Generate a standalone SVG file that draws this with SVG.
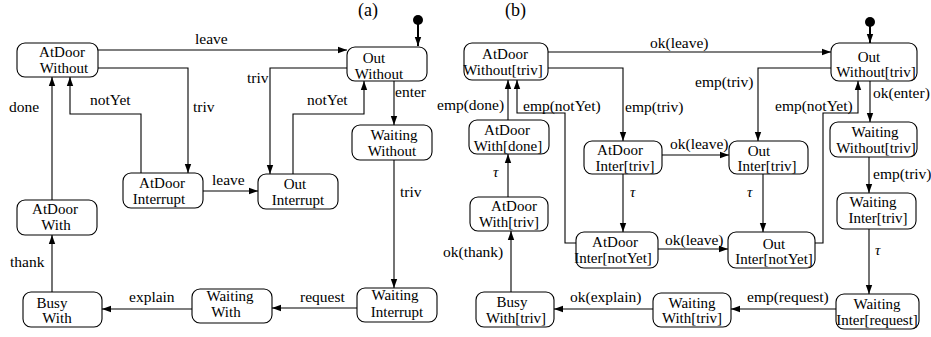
<svg xmlns="http://www.w3.org/2000/svg" width="931" height="337" viewBox="0 0 931 337">
<style>
.n rect{fill:#fff;stroke:#000;stroke-width:1.1}
.n text{font-family:'Liberation Serif','Times New Roman',serif;font-size:15px;text-anchor:middle;fill:#000}
.c path{fill:none;stroke:#000;stroke-width:1.1}
.l text{font-family:'Liberation Serif','Times New Roman',serif;font-size:15.5px;fill:#000}
.l text.t{font-style:italic;font-size:15px}
</style>
<defs>
<marker id="a" markerWidth="10" markerHeight="8" refX="9" refY="4" orient="auto" markerUnits="userSpaceOnUse">
<path d="M0,0.8 L9,4 L0,7.2 Z" fill="#000"/>
</marker>
</defs>
<rect width="931" height="337" fill="#fff"/>
<g class="l">
<text x="358" y="16" style="font-size:18px">(a)</text>
<text x="505" y="16" style="font-size:18px">(b)</text>
</g>

<g class="c">
<!-- (a) -->
<circle cx="418" cy="20" r="5" fill="#000"/>
<path d="M418,24 V46" style="stroke-width:2" marker-end="url(#a)"/>
<path d="M98,50 H347" marker-end="url(#a)"/>
<path d="M98,68 H188 V173" marker-end="url(#a)"/>
<path d="M141,173 V114 H70 V77" marker-end="url(#a)"/>
<path d="M347,68 H270 V174" marker-end="url(#a)"/>
<path d="M293,174 V114 H364 V81" marker-end="url(#a)"/>
<path d="M394,81 V125" marker-end="url(#a)"/>
<path d="M203,191 H258" marker-end="url(#a)"/>
<path d="M52,200 V77" marker-end="url(#a)"/>
<path d="M394,160 V288" marker-end="url(#a)"/>
<path d="M357,308 H272" marker-end="url(#a)"/>
<path d="M192,309 H102" marker-end="url(#a)"/>
<path d="M52,292 V235" marker-end="url(#a)"/>
<!-- (b) -->
<circle cx="870" cy="22" r="5" fill="#000"/>
<path d="M870,26 V43" style="stroke-width:2" marker-end="url(#a)"/>
<path d="M548,52 H831" marker-end="url(#a)"/>
<path d="M548,68 H623 V141" marker-end="url(#a)"/>
<path d="M831,68 H758 V141" marker-end="url(#a)"/>
<path d="M576,243 H565 V113 H517 V80" marker-end="url(#a)"/>
<path d="M508,120 V80" marker-end="url(#a)"/>
<path d="M815,243 H823 V113 H858 V81" marker-end="url(#a)"/>
<path d="M870,81 V122" marker-end="url(#a)"/>
<path d="M662,155 H729" marker-end="url(#a)"/>
<path d="M623,174 V232" marker-end="url(#a)"/>
<path d="M763,174 V232" marker-end="url(#a)"/>
<path d="M658,249 H728" marker-end="url(#a)"/>
<path d="M508,197 V154" marker-end="url(#a)"/>
<path d="M869,157 V193" marker-end="url(#a)"/>
<path d="M869,229 V294" marker-end="url(#a)"/>
<path d="M836,309 H731" marker-end="url(#a)"/>
<path d="M653,309 H554" marker-end="url(#a)"/>
<path d="M511,292 V231" marker-end="url(#a)"/>
</g>

<g class="l">
<text x="195" y="44">leave</text>
<text x="193" y="112">triv</text>
<text x="90" y="105">notYet</text>
<text x="9" y="112">done</text>
<text x="247" y="83">triv</text>
<text x="307" y="105">notYet</text>
<text x="395" y="97">enter</text>
<text x="212" y="185">leave</text>
<text x="400" y="197">triv</text>
<text x="10" y="267">thank</text>
<text x="300" y="302">request</text>
<text x="129" y="302">explain</text>

<text x="650" y="48">ok(leave)</text>
<text x="625" y="112">emp(triv)</text>
<text x="695" y="87">emp(triv)</text>
<text x="523" y="111">emp(notYet)</text>
<text x="437" y="110">emp(done)</text>
<text x="775" y="111">emp(notYet)</text>
<text x="873" y="98">ok(enter)</text>
<text x="670" y="149">ok(leave)</text>
<text x="665" y="245">ok(leave)</text>
<text x="873" y="179">emp(triv)</text>
<text x="747" y="302">emp(request)</text>
<text x="570" y="302">ok(explain)</text>
<text x="443" y="257">ok(thank)</text>
<text class="t" x="493" y="177">τ</text>
<text class="t" x="630" y="197">τ</text>
<text class="t" x="747" y="197">τ</text>
<text class="t" x="875" y="255">τ</text>
</g>

<!-- (a) nodes -->
<g class="n" id="a_atdoor_without"><rect x="17" y="43" width="81" height="34" rx="8"/><text x="62" y="57">AtDoor</text><text x="64" y="73">Without</text></g>
<g class="n" id="a_out_without"><rect x="347" y="47" width="80" height="34" rx="8"/><text x="374" y="63">Out</text><text x="379" y="79">Without</text></g>
<g class="n" id="a_waiting_without"><rect x="352" y="125" width="80" height="35" rx="8"/><text x="394" y="140">Waiting</text><text x="392" y="156">Without</text></g>
<g class="n" id="a_atdoor_interrupt"><rect x="123" y="173" width="80" height="35" rx="8"/><text x="162" y="188">AtDoor</text><text x="159" y="204">Interrupt</text></g>
<g class="n" id="a_out_interrupt"><rect x="258" y="174" width="80" height="35" rx="8"/><text x="295" y="189">Out</text><text x="298" y="205">Interrupt</text></g>
<g class="n" id="a_atdoor_with"><rect x="17" y="200" width="80" height="35" rx="8"/><text x="55" y="214">AtDoor</text><text x="56" y="230">With</text></g>
<g class="n" id="a_busy_with"><rect x="23" y="292" width="79" height="35" rx="8"/><text x="52" y="308">Busy</text><text x="57" y="323">With</text></g>
<g class="n" id="a_waiting_with"><rect x="192" y="289" width="80" height="34" rx="8"/><text x="230" y="301">Waiting</text><text x="226" y="317">With</text></g>
<g class="n" id="a_waiting_interrupt"><rect x="357" y="288" width="80" height="34" rx="8"/><text x="395" y="300">Waiting</text><text x="397" y="317">Interrupt</text></g>

<!-- (b) nodes -->
<g class="n" id="b_atdoor_without"><rect x="464" y="43" width="84" height="37" rx="8"/><text x="505" y="59">AtDoor</text><text x="503" y="75">Without[triv]</text></g>
<g class="n" id="b_out_without"><rect x="831" y="43" width="86" height="38" rx="8"/><text x="869" y="62">Out</text><text x="876" y="77">Without[triv]</text></g>
<g class="n" id="b_waiting_without"><rect x="830" y="122" width="87" height="35" rx="8"/><text x="875" y="137">Waiting</text><text x="876" y="153">Without[triv]</text></g>
<g class="n" id="b_atdoor_with_done"><rect x="469" y="120" width="80" height="34" rx="8"/><text x="507" y="135">AtDoor</text><text x="508" y="151">With[done]</text></g>
<g class="n" id="b_atdoor_inter_triv"><rect x="584" y="141" width="78" height="33" rx="8"/><text x="620" y="155">AtDoor</text><text x="625" y="171">Inter[triv]</text></g>
<g class="n" id="b_out_inter_triv"><rect x="729" y="141" width="79" height="33" rx="8"/><text x="759" y="156">Out</text><text x="767" y="171">Inter[triv]</text></g>
<g class="n" id="b_atdoor_with_triv"><rect x="470" y="197" width="78" height="34" rx="8"/><text x="514" y="211">AtDoor</text><text x="509" y="227">With[triv]</text></g>
<g class="n" id="b_atdoor_inter_notyet"><rect x="576" y="232" width="82" height="36" rx="8"/><text x="615" y="247">AtDoor</text><text x="613" y="263">Inter[notYet]</text></g>
<g class="n" id="b_out_inter_notyet"><rect x="728" y="232" width="87" height="36" rx="8"/><text x="774" y="249">Out</text><text x="774" y="264">Inter[notYet]</text></g>
<g class="n" id="b_waiting_inter_triv"><rect x="837" y="193" width="79" height="36" rx="8"/><text x="873" y="207">Waiting</text><text x="878" y="223">Inter[triv]</text></g>
<g class="n" id="b_waiting_inter_request"><rect x="836" y="294" width="83" height="35" rx="8"/><text x="877" y="309">Waiting</text><text x="877" y="325">Inter[request]</text></g>
<g class="n" id="b_waiting_with_triv"><rect x="653" y="293" width="78" height="34" rx="8"/><text x="692" y="308">Waiting</text><text x="692" y="323">With[triv]</text></g>
<g class="n" id="b_busy_with_triv"><rect x="476" y="292" width="78" height="35" rx="8"/><text x="512" y="307">Busy</text><text x="516" y="323">With[triv]</text></g>
</svg>
